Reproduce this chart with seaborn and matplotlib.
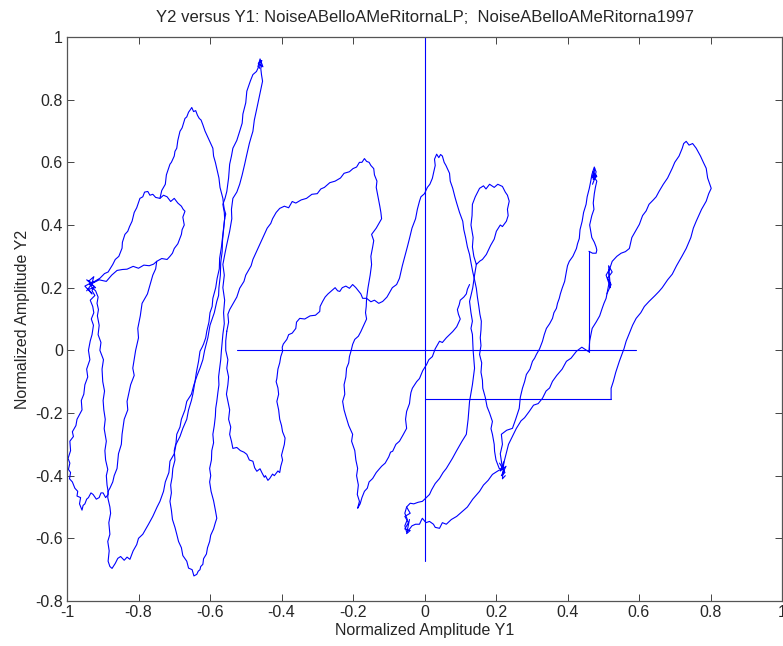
import matplotlib
matplotlib.use("Agg")
import matplotlib.pyplot as plt
import seaborn as sns
import pandas as pd

# ---- data (data units: (Y1, Y2)) ----
jump_vertical_x0 = [(0.0, 1.0), (0.0, -0.673)]
jump_horizontal_y0 = [(-0.525, 0.0), (0.592, 0.0)]
jump_horizontal_low = [(0.0, -0.155), (0.522, -0.155)]
jump_vertical_right = [(0.46, 0.316), (0.46, -0.005)]

left_loop = [(-0.936, 0.21), (-0.925, 0.205), (-0.93, 0.19), (-0.922, 0.175), (-0.935, 0.16),
             (-0.928, 0.14), (-0.925, 0.12), (-0.932, 0.10), (-0.926, 0.08), (-0.93, 0.05),
             (-0.935, 0.03), (-0.94, 0.0), (-0.936, -0.03), (-0.945, -0.06), (-0.942, -0.085),
             (-0.95, -0.11), (-0.953, -0.14), (-0.96, -0.16), (-0.958, -0.19), (-0.972, -0.22),
             (-0.975, -0.24), (-0.985, -0.26), (-0.982, -0.275), (-0.992, -0.29), (-0.99, -0.32),
             (-0.997, -0.345), (-0.992, -0.36), (-0.996, -0.38), (-0.99, -0.39), (-0.993, -0.41),
             (-0.985, -0.42), (-0.978, -0.44), (-0.97, -0.45), (-0.972, -0.465), (-0.962, -0.47),
             (-0.965, -0.49), (-0.958, -0.51), (-0.955, -0.495), (-0.95, -0.49), (-0.945, -0.475),
             (-0.94, -0.47), (-0.933, -0.455), (-0.927, -0.46), (-0.918, -0.475), (-0.91, -0.47),
             (-0.905, -0.455), (-0.899, -0.455), (-0.892, -0.47), (-0.885, -0.46), (-0.885, -0.45),
             (-0.888, -0.43), (-0.89, -0.40), (-0.886, -0.38), (-0.892, -0.35), (-0.894, -0.32),
             (-0.89, -0.29), (-0.896, -0.25), (-0.893, -0.22), (-0.897, -0.19), (-0.899, -0.16),
             (-0.895, -0.13), (-0.9, -0.1), (-0.902, -0.06), (-0.898, -0.03), (-0.908, 0.0),
             (-0.905, 0.025), (-0.913, 0.05), (-0.91, 0.08), (-0.915, 0.11), (-0.912, 0.13),
             (-0.916, 0.15), (-0.913, 0.17), (-0.92, 0.19), (-0.93, 0.2), (-0.936, 0.21)]

left_cluster = [(-0.94, 0.22), (-0.925, 0.235), (-0.93, 0.215), (-0.945, 0.225), (-0.92, 0.2),
                (-0.94, 0.195), (-0.93, 0.18), (-0.95, 0.205), (-0.925, 0.22), (-0.945, 0.19)]

small_loop = [(-0.936, 0.21), (-0.92, 0.222), (-0.908, 0.23), (-0.895, 0.245), (-0.885, 0.25),
              (-0.872, 0.274), (-0.865, 0.29), (-0.855, 0.3), (-0.846, 0.326), (-0.845, 0.345),
              (-0.838, 0.37), (-0.83, 0.38), (-0.825, 0.395), (-0.818, 0.412), (-0.812, 0.44),
              (-0.805, 0.455), (-0.796, 0.485), (-0.788, 0.49), (-0.783, 0.505), (-0.774, 0.507),
              (-0.768, 0.495), (-0.76, 0.498), (-0.752, 0.488), (-0.74, 0.485), (-0.73, 0.495),
              (-0.72, 0.49), (-0.71, 0.475), (-0.70, 0.485), (-0.69, 0.47), (-0.68, 0.46),
              (-0.675, 0.45), (-0.670, 0.444), (-0.676, 0.425), (-0.672, 0.40), (-0.678, 0.385),
              (-0.68, 0.37), (-0.685, 0.355), (-0.69, 0.34), (-0.70, 0.325), (-0.705, 0.31),
              (-0.712, 0.30), (-0.72, 0.29), (-0.735, 0.293), (-0.749, 0.284), (-0.758, 0.275),
              (-0.77, 0.27), (-0.785, 0.272), (-0.80, 0.262), (-0.815, 0.268), (-0.832, 0.259),
              (-0.845, 0.258), (-0.86, 0.255), (-0.875, 0.24), (-0.89, 0.22), (-0.91, 0.225),
              (-0.936, 0.21)]

inner_drop = [(-0.749, 0.284), (-0.752, 0.26), (-0.76, 0.24), (-0.77, 0.2), (-0.775, 0.18),
              (-0.79, 0.15), (-0.795, 0.11), (-0.802, 0.07), (-0.8, 0.04), (-0.808, 0.0),
              (-0.816, -0.057), (-0.812, -0.08), (-0.822, -0.11), (-0.832, -0.163), (-0.83, -0.19),
              (-0.84, -0.22), (-0.846, -0.268), (-0.848, -0.3), (-0.856, -0.33), (-0.86, -0.377),
              (-0.868, -0.4), (-0.872, -0.42), (-0.88, -0.44), (-0.885, -0.45)]

tall_loop = [(-0.74, 0.485), (-0.735, 0.51), (-0.725, 0.53), (-0.722, 0.56), (-0.712, 0.594),
             (-0.708, 0.6), (-0.70, 0.62), (-0.698, 0.635), (-0.693, 0.645), (-0.69, 0.67),
             (-0.684, 0.699), (-0.678, 0.71), (-0.67, 0.74), (-0.665, 0.745), (-0.66, 0.76),
             (-0.655, 0.768), (-0.651, 0.775), (-0.646, 0.762), (-0.64, 0.765), (-0.635, 0.75),
             (-0.63, 0.74), (-0.625, 0.735), (-0.62, 0.72), (-0.614, 0.7), (-0.61, 0.69),
             (-0.6, 0.665), (-0.592, 0.645), (-0.59, 0.62), (-0.585, 0.60), (-0.58, 0.575),
             (-0.575, 0.55), (-0.572, 0.52), (-0.564, 0.485), (-0.562, 0.465), (-0.56, 0.45),
             (-0.556, 0.435), (-0.559, 0.42), (-0.562, 0.39), (-0.565, 0.36), (-0.568, 0.33),
             (-0.573, 0.294), (-0.574, 0.26), (-0.58, 0.23), (-0.584, 0.2), (-0.592, 0.166),
             (-0.594, 0.14), (-0.60, 0.12), (-0.603, 0.09), (-0.609, 0.061), (-0.612, 0.04),
             (-0.618, 0.02), (-0.622, 0.01), (-0.628, -0.003), (-0.632, -0.035), (-0.638, -0.07),
             (-0.642, -0.1), (-0.648, -0.14), (-0.652, -0.16), (-0.66, -0.19), (-0.665, -0.22),
             (-0.676, -0.249), (-0.684, -0.275), (-0.695, -0.30), (-0.7, -0.33), (-0.712, -0.354),
             (-0.715, -0.39), (-0.725, -0.42), (-0.73, -0.45), (-0.74, -0.482), (-0.748, -0.5),
             (-0.76, -0.53), (-0.772, -0.555), (-0.788, -0.587), (-0.8, -0.6), (-0.805, -0.62),
             (-0.815, -0.64), (-0.824, -0.667), (-0.832, -0.66), (-0.84, -0.67), (-0.85, -0.658),
             (-0.858, -0.664), (-0.865, -0.68), (-0.874, -0.696), (-0.88, -0.69), (-0.885, -0.673),
             (-0.882, -0.64), (-0.886, -0.61), (-0.88, -0.587), (-0.883, -0.55), (-0.878, -0.52),
             (-0.88, -0.5), (-0.886, -0.47), (-0.885, -0.45)]

spike_loop = [(-0.559, 0.42), (-0.562, 0.385), (-0.565, 0.35), (-0.566, 0.315), (-0.57, 0.28),
              (-0.571, 0.24), (-0.575, 0.2), (-0.576, 0.175), (-0.581, 0.156), (-0.588, 0.12),
              (-0.60, 0.08), (-0.606, 0.04), (-0.615, 0.0), (-0.62, -0.03), (-0.628, -0.057),
              (-0.636, -0.08), (-0.645, -0.11), (-0.652, -0.14), (-0.665, -0.163), (-0.67, -0.19),
              (-0.68, -0.22), (-0.684, -0.245), (-0.693, -0.268), (-0.695, -0.295), (-0.70, -0.32),
              (-0.698, -0.35), (-0.704, -0.377), (-0.706, -0.405), (-0.71, -0.43), (-0.708, -0.455),
              (-0.712, -0.482), (-0.708, -0.51), (-0.705, -0.54), (-0.698, -0.565), (-0.693, -0.587),
              (-0.688, -0.61), (-0.68, -0.63), (-0.676, -0.655), (-0.665, -0.673), (-0.66, -0.695),
              (-0.65, -0.70), (-0.645, -0.72), (-0.637, -0.715), (-0.633, -0.705), (-0.628, -0.70),
              (-0.626, -0.69), (-0.620, -0.683), (-0.618, -0.665), (-0.61, -0.65), (-0.607, -0.63),
              (-0.601, -0.61), (-0.598, -0.59), (-0.59, -0.57), (-0.585, -0.55), (-0.581, -0.536),
              (-0.585, -0.51), (-0.59, -0.48), (-0.597, -0.45), (-0.601, -0.42), (-0.598, -0.40),
              (-0.601, -0.377), (-0.596, -0.35), (-0.595, -0.32), (-0.59, -0.295), (-0.592, -0.268),
              (-0.588, -0.24), (-0.585, -0.21), (-0.584, -0.185), (-0.581, -0.163), (-0.578, -0.135),
              (-0.575, -0.11), (-0.576, -0.085), (-0.573, -0.057), (-0.57, -0.03), (-0.568, 0.0),
              (-0.566, 0.025), (-0.564, 0.051), (-0.56, 0.085), (-0.562, 0.12), (-0.559, 0.16),
              (-0.564, 0.2), (-0.56, 0.24), (-0.564, 0.274), (-0.558, 0.31), (-0.553, 0.338),
              (-0.545, 0.38), (-0.539, 0.42), (-0.54, 0.45), (-0.536, 0.485), (-0.525, 0.505),
              (-0.517, 0.53), (-0.51, 0.56), (-0.503, 0.594), (-0.498, 0.62), (-0.49, 0.66),
              (-0.485, 0.68), (-0.48, 0.699), (-0.476, 0.735), (-0.469, 0.772), (-0.462, 0.81),
              (-0.453, 0.859), (-0.456, 0.88), (-0.458, 0.9), (-0.455, 0.91), (-0.461, 0.913),
              (-0.466, 0.9), (-0.47, 0.89), (-0.48, 0.88), (-0.487, 0.86), (-0.497, 0.827),
              (-0.5, 0.79), (-0.508, 0.754), (-0.51, 0.725), (-0.517, 0.699), (-0.525, 0.67),
              (-0.536, 0.645), (-0.54, 0.62), (-0.545, 0.594), (-0.548, 0.55), (-0.553, 0.507),
              (-0.558, 0.485), (-0.564, 0.466), (-0.56, 0.44), (-0.559, 0.42)]

spike_tip = [(-0.462, 0.9), (-0.455, 0.925), (-0.465, 0.915), (-0.452, 0.905), (-0.46, 0.93),
             (-0.466, 0.905)]

middle_loop = [(-0.553, 0.061), (-0.556, 0.03), (-0.556, 0.0), (-0.55, -0.03), (-0.553, -0.057),
               (-0.548, -0.085), (-0.55, -0.11), (-0.554, -0.14), (-0.55, -0.163), (-0.545, -0.19),
               (-0.548, -0.22), (-0.542, -0.245), (-0.545, -0.268), (-0.54, -0.29), (-0.536, -0.313),
               (-0.525, -0.31), (-0.515, -0.32), (-0.505, -0.325), (-0.497, -0.332), (-0.49, -0.35),
               (-0.48, -0.354), (-0.475, -0.375), (-0.469, -0.386), (-0.46, -0.378), (-0.455, -0.39),
               (-0.448, -0.405), (-0.445, -0.40), (-0.438, -0.415), (-0.433, -0.409), (-0.425, -0.395),
               (-0.42, -0.40), (-0.41, -0.385), (-0.405, -0.39), (-0.402, -0.37), (-0.397, -0.35),
               (-0.4, -0.335), (-0.397, -0.322), (-0.392, -0.3), (-0.39, -0.28), (-0.397, -0.26),
               (-0.40, -0.24), (-0.405, -0.22), (-0.408, -0.19), (-0.413, -0.163), (-0.408, -0.14),
               (-0.41, -0.12), (-0.415, -0.1), (-0.413, -0.09), (-0.41, -0.06), (-0.405, -0.04),
               (-0.402, -0.02), (-0.397, -0.003), (-0.398, 0.01), (-0.395, 0.02), (-0.385, 0.035),
               (-0.38, 0.05), (-0.37, 0.055), (-0.36, 0.07), (-0.358, 0.09), (-0.349, 0.102),
               (-0.335, 0.1), (-0.32, 0.11), (-0.305, 0.112), (-0.293, 0.124), (-0.292, 0.14),
               (-0.285, 0.156), (-0.278, 0.17), (-0.27, 0.18), (-0.26, 0.19), (-0.25, 0.2),
               (-0.243, 0.19), (-0.237, 0.188), (-0.23, 0.2), (-0.22, 0.205), (-0.21, 0.198),
               (-0.201, 0.21), (-0.192, 0.2), (-0.185, 0.19), (-0.178, 0.18), (-0.173, 0.166),
               (-0.162, 0.166), (-0.158, 0.2), (-0.152, 0.24), (-0.148, 0.274), (-0.15, 0.3),
               (-0.145, 0.33), (-0.142, 0.35), (-0.148, 0.37), (-0.135, 0.39), (-0.12, 0.42),
               (-0.122, 0.44), (-0.125, 0.46), (-0.13, 0.49), (-0.135, 0.52), (-0.133, 0.54),
               (-0.14, 0.56), (-0.142, 0.58), (-0.15, 0.59), (-0.155, 0.6), (-0.162, 0.603),
               (-0.168, 0.612), (-0.175, 0.60), (-0.182, 0.6), (-0.19, 0.585), (-0.2, 0.58),
               (-0.21, 0.57), (-0.225, 0.565), (-0.235, 0.55), (-0.25, 0.54), (-0.265, 0.535),
               (-0.28, 0.52), (-0.29, 0.515), (-0.30, 0.50), (-0.315, 0.498), (-0.33, 0.485),
               (-0.345, 0.48), (-0.36, 0.47), (-0.37, 0.475), (-0.38, 0.455), (-0.392, 0.46),
               (-0.405, 0.453), (-0.415, 0.44), (-0.425, 0.42), (-0.43, 0.405), (-0.44, 0.39),
               (-0.45, 0.365), (-0.461, 0.338), (-0.468, 0.32), (-0.48, 0.29), (-0.485, 0.27),
               (-0.5, 0.24), (-0.505, 0.22), (-0.517, 0.198), (-0.525, 0.17), (-0.535, 0.15),
               (-0.545, 0.13), (-0.55, 0.115), (-0.548, 0.09), (-0.553, 0.061)]

centre_drop = [(-0.162, 0.166), (-0.163, 0.14), (-0.165, 0.12), (-0.162, 0.1), (-0.17, 0.08),
               (-0.178, 0.06), (-0.185, 0.045), (-0.195, 0.035), (-0.201, 0.019), (-0.205, 0.0),
               (-0.21, -0.02), (-0.212, -0.04), (-0.218, -0.057), (-0.22, -0.085), (-0.225, -0.11),
               (-0.223, -0.14), (-0.229, -0.163), (-0.225, -0.19), (-0.22, -0.21), (-0.212, -0.24),
               (-0.201, -0.268), (-0.204, -0.29), (-0.195, -0.32), (-0.192, -0.35), (-0.187, -0.377),
               (-0.19, -0.4), (-0.185, -0.43), (-0.188, -0.46), (-0.182, -0.482), (-0.185, -0.495),
               (-0.187, -0.504), (-0.18, -0.49), (-0.175, -0.47), (-0.168, -0.45), (-0.16, -0.44),
               (-0.155, -0.42), (-0.145, -0.409), (-0.135, -0.39), (-0.12, -0.37), (-0.11, -0.36),
               (-0.1, -0.34), (-0.095, -0.325), (-0.089, -0.322), (-0.08, -0.3), (-0.07, -0.29),
               (-0.06, -0.27), (-0.05, -0.249), (-0.053, -0.22), (-0.05, -0.195), (-0.042, -0.17),
               (-0.04, -0.15), (-0.038, -0.135), (-0.034, -0.121), (-0.022, -0.1), (-0.014, -0.09),
               (-0.005, -0.065), (0.006, -0.045), (0.012, -0.03), (0.022, -0.02), (0.03, 0.005),
               (0.042, 0.029), (0.05, 0.025), (0.061, 0.04), (0.07, 0.05), (0.079, 0.06),
               (0.09, 0.075), (0.1, 0.1), (0.095, 0.115), (0.092, 0.13), (0.097, 0.145),
               (0.1, 0.16), (0.11, 0.17), (0.117, 0.18), (0.12, 0.195), (0.126, 0.21)]

peak_loop = [(-0.162, 0.166), (-0.15, 0.155), (-0.14, 0.16), (-0.128, 0.15), (-0.117, 0.156),
             (-0.105, 0.17), (-0.095, 0.19), (-0.09, 0.2), (-0.078, 0.21), (-0.07, 0.23),
             (-0.062, 0.27), (-0.055, 0.3), (-0.048, 0.33), (-0.042, 0.357), (-0.035, 0.39),
             (-0.025, 0.42), (-0.02, 0.45), (-0.014, 0.476), (-0.01, 0.49), (0.0, 0.5),
             (0.008, 0.52), (0.015, 0.53), (0.022, 0.549), (0.026, 0.57), (0.03, 0.59),
             (0.028, 0.61), (0.034, 0.626), (0.04, 0.615), (0.045, 0.625), (0.05, 0.62),
             (0.055, 0.6), (0.06, 0.59), (0.07, 0.565), (0.072, 0.54), (0.079, 0.517),
             (0.085, 0.49), (0.09, 0.47), (0.098, 0.44), (0.107, 0.412), (0.11, 0.385),
             (0.115, 0.36), (0.12, 0.33), (0.126, 0.306), (0.13, 0.28), (0.135, 0.25),
             (0.14, 0.225), (0.145, 0.198), (0.148, 0.17), (0.152, 0.14), (0.155, 0.115),
             (0.159, 0.093), (0.158, 0.065), (0.156, 0.04), (0.158, 0.015), (0.154, -0.013),
             (0.16, -0.04), (0.158, -0.07), (0.162, -0.095), (0.163, -0.121), (0.17, -0.15),
             (0.175, -0.18), (0.182, -0.2), (0.19, -0.227), (0.186, -0.25), (0.19, -0.268),
             (0.195, -0.3), (0.196, -0.322), (0.2, -0.35), (0.209, -0.377), (0.218, -0.38)]

twist_loop = [(0.145, 0.274), (0.138, 0.3), (0.134, 0.33), (0.136, 0.36), (0.13, 0.40),
              (0.133, 0.43), (0.134, 0.466), (0.142, 0.49), (0.154, 0.517), (0.165, 0.525),
              (0.172, 0.515), (0.182, 0.53), (0.195, 0.52), (0.205, 0.53), (0.218, 0.523),
              (0.226, 0.505), (0.232, 0.495), (0.237, 0.476), (0.232, 0.45), (0.234, 0.43),
              (0.229, 0.412), (0.218, 0.395), (0.212, 0.4), (0.201, 0.38), (0.195, 0.355),
              (0.185, 0.335), (0.173, 0.306), (0.162, 0.29), (0.155, 0.285), (0.145, 0.274),
              (0.14, 0.24), (0.135, 0.2), (0.13, 0.175), (0.126, 0.156), (0.13, 0.12),
              (0.134, 0.093), (0.13, 0.07), (0.134, 0.051), (0.136, 0.0), (0.14, -0.057),
              (0.134, -0.11), (0.126, -0.163), (0.122, -0.22), (0.117, -0.268), (0.105, -0.29),
              (0.089, -0.322), (0.078, -0.345), (0.061, -0.377), (0.052, -0.39), (0.042, -0.409),
              (0.03, -0.425), (0.02, -0.445), (0.014, -0.46), (0.005, -0.47), (-0.006, -0.482),
              (-0.018, -0.485), (-0.03, -0.49), (-0.04, -0.488), (-0.05, -0.5), (-0.055, -0.52),
              (-0.048, -0.54), (-0.055, -0.56), (-0.05, -0.58), (-0.045, -0.575), (-0.035, -0.56),
              (-0.025, -0.555), (-0.014, -0.555), (-0.01, -0.545), (-0.006, -0.536), (0.004, -0.55),
              (0.014, -0.546), (0.025, -0.555), (0.03, -0.565), (0.042, -0.568), (0.05, -0.55),
              (0.061, -0.555), (0.075, -0.54), (0.09, -0.53), (0.106, -0.514), (0.12, -0.5),
              (0.135, -0.475), (0.154, -0.45), (0.165, -0.43), (0.178, -0.415), (0.19, -0.396),
              (0.205, -0.385), (0.218, -0.377)]

bottom_cluster = [(-0.05, -0.5), (-0.04, -0.52), (-0.055, -0.53), (-0.045, -0.55), (-0.055, -0.57),
                  (-0.04, -0.575), (-0.05, -0.585), (-0.042, -0.54)]

mid_cluster = [(0.21, -0.36), (0.225, -0.39), (0.215, -0.4), (0.228, -0.37), (0.212, -0.385),
               (0.222, -0.355), (0.218, -0.41), (0.226, -0.4)]

right_spike = [(0.218, -0.377), (0.212, -0.33), (0.218, -0.3), (0.215, -0.268), (0.23, -0.255),
               (0.246, -0.249), (0.255, -0.22), (0.265, -0.185), (0.268, -0.15), (0.274, -0.121),
               (0.28, -0.1), (0.285, -0.077), (0.295, -0.06), (0.302, -0.035), (0.308, -0.025),
               (0.313, -0.013), (0.322, 0.005), (0.33, 0.029), (0.335, 0.05), (0.341, 0.07),
               (0.35, 0.085), (0.358, 0.102), (0.362, 0.12), (0.369, 0.134), (0.372, 0.15),
               (0.377, 0.166), (0.38, 0.18), (0.385, 0.198), (0.392, 0.22), (0.397, 0.252),
               (0.4, 0.27), (0.405, 0.284), (0.415, 0.3), (0.425, 0.325), (0.428, 0.34),
               (0.433, 0.357), (0.435, 0.385), (0.441, 0.412), (0.445, 0.44), (0.452, 0.466),
               (0.455, 0.49), (0.461, 0.517), (0.465, 0.54), (0.468, 0.56), (0.472, 0.575),
               (0.475, 0.585), (0.478, 0.575), (0.48, 0.57), (0.476, 0.55), (0.482, 0.54),
               (0.478, 0.52), (0.475, 0.5), (0.472, 0.47), (0.474, 0.45), (0.468, 0.43),
               (0.465, 0.415), (0.462, 0.40), (0.465, 0.38), (0.468, 0.36), (0.475, 0.345),
               (0.48, 0.33), (0.482, 0.32), (0.48, 0.31), (0.47, 0.31), (0.46, 0.316)]

right_tip = [(0.47, 0.53), (0.48, 0.56), (0.468, 0.55), (0.476, 0.58), (0.472, 0.545),
             (0.482, 0.555), (0.47, 0.57)]

right_cluster = [(0.51, 0.18), (0.522, 0.21), (0.512, 0.23), (0.525, 0.25), (0.515, 0.27),
                 (0.52, 0.2), (0.508, 0.24), (0.518, 0.26)]

big_loop = [(0.218, -0.377), (0.235, -0.3), (0.257, -0.249), (0.27, -0.225), (0.28, -0.215),
            (0.293, -0.195), (0.305, -0.175), (0.318, -0.17), (0.33, -0.153), (0.34, -0.13),
            (0.35, -0.12), (0.358, -0.099), (0.37, -0.08), (0.385, -0.06), (0.397, -0.035),
            (0.41, -0.025), (0.425, -0.003), (0.44, 0.01), (0.46, -0.005), (0.462, 0.03),
            (0.469, 0.07), (0.48, 0.09), (0.49, 0.11), (0.497, 0.134), (0.502, 0.15),
            (0.508, 0.166), (0.512, 0.19), (0.517, 0.22), (0.515, 0.25), (0.525, 0.284),
            (0.538, 0.3), (0.55, 0.31), (0.562, 0.315), (0.573, 0.325), (0.58, 0.36),
            (0.59, 0.38), (0.601, 0.402), (0.61, 0.43), (0.62, 0.445), (0.628, 0.466),
            (0.64, 0.48), (0.648, 0.49), (0.656, 0.507), (0.668, 0.53), (0.68, 0.55),
            (0.693, 0.581), (0.7, 0.6), (0.712, 0.62), (0.721, 0.645), (0.725, 0.66),
            (0.732, 0.667), (0.74, 0.655), (0.75, 0.66), (0.76, 0.645), (0.772, 0.62),
            (0.78, 0.6), (0.788, 0.581), (0.792, 0.55), (0.802, 0.517), (0.795, 0.5),
            (0.788, 0.476), (0.775, 0.45), (0.76, 0.412), (0.752, 0.39), (0.745, 0.36),
            (0.732, 0.325), (0.72, 0.3), (0.705, 0.27), (0.693, 0.243), (0.68, 0.225),
            (0.665, 0.2), (0.656, 0.188), (0.645, 0.175), (0.628, 0.156), (0.615, 0.14),
            (0.605, 0.12), (0.592, 0.102), (0.582, 0.08), (0.575, 0.06), (0.564, 0.029),
            (0.558, 0.005), (0.545, -0.035), (0.535, -0.07), (0.528, -0.1), (0.522, -0.121),
            (0.522, -0.155)]

strokes = {
    "jump_vertical_x0": jump_vertical_x0, "jump_horizontal_y0": jump_horizontal_y0,
    "jump_horizontal_low": jump_horizontal_low, "jump_vertical_right": jump_vertical_right,
    "left_loop": left_loop, "left_cluster": left_cluster, "small_loop": small_loop,
    "inner_drop": inner_drop, "tall_loop": tall_loop, "spike_loop": spike_loop,
    "spike_tip": spike_tip, "middle_loop": middle_loop, "centre_drop": centre_drop,
    "peak_loop": peak_loop, "twist_loop": twist_loop, "bottom_cluster": bottom_cluster,
    "mid_cluster": mid_cluster, "right_spike": right_spike, "right_tip": right_tip,
    "right_cluster": right_cluster, "big_loop": big_loop,
}

x_ticks = [-1, -0.8, -0.6, -0.4, -0.2, 0, 0.2, 0.4, 0.6, 0.8, 1]
y_ticks = [-0.8, -0.6, -0.4, -0.2, 0, 0.2, 0.4, 0.6, 0.8, 1]

rows = []
for name, pts in strokes.items():
    for i, (x, y) in enumerate(pts):
        rows.append({"stroke": name, "order": i, "Y1": x, "Y2": y})
df = pd.DataFrame(rows)

sns.set_style("ticks")
plt.rcParams["font.family"] = ["Liberation Sans", "DejaVu Sans"]

fig = plt.figure(figsize=(7.83, 6.46), dpi=100)
ax = fig.add_axes([67 / 783, 45 / 646, 715 / 783, 564 / 646])

sns.lineplot(data=df, x="Y1", y="Y2", units="stroke", estimator=None, sort=False,
             color="#0000ff", linewidth=0.8, ax=ax, legend=False)

ax.set_xlim(-1, 1)
ax.set_ylim(-0.8, 1)
ax.set_xticks(x_ticks)
ax.set_yticks(y_ticks)
ax.set_xticklabels([f"{t:g}" for t in x_ticks], fontsize=11.5)
ax.set_yticklabels([f"{t:g}" for t in y_ticks], fontsize=11.5)
ax.tick_params(direction="in", top=True, right=True, length=5, width=0.7, pad=3,
               color="#444444")
for s in ax.spines.values():
    s.set_visible(True)
    s.set_linewidth(0.9)
    s.set_color("#555555")

ax.set_xlabel("Normalized Amplitude Y1", fontsize=11.5, labelpad=2)
ax.set_ylabel("Normalized Amplitude Y2", fontsize=11.5, labelpad=4)
ax.set_title("Y2 versus Y1: NoiseABelloAMeRitornaLP;  NoiseABelloAMeRitorna1997",
             fontsize=12, pad=11)

fig.savefig("out.png", dpi=100)
